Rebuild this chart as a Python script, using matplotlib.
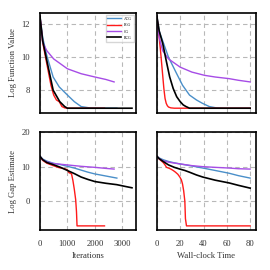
import matplotlib
matplotlib.use("Agg")
import matplotlib.pyplot as plt

plt.rcParams['font.family'] = ['Liberation Serif', 'DejaVu Serif']

labels = ["ACG", "PCG", "CG", "BCG"]
colors = ["#4a8fc9", "#ff1a1a", "#a64ce6", "#000000"]

# Top-left: log function value vs iterations
blue_it_x = [0, 100, 250, 480, 700, 1000, 1250, 1500, 1800, 2200, 2800]
blue_it_f = [12.5, 11.2, 10.1, 8.8, 8.2, 7.7, 7.3, 7.0, 6.92, 6.9, 6.9]
red_it_x = [0, 100, 250, 400, 500, 600, 700, 800, 900, 1000, 1500, 2000, 2350]
red_it_f = [12.5, 10.9, 9.6, 8.3, 7.7, 7.4, 7.3, 7.0, 6.92, 6.9, 6.9, 6.9, 6.9]
purple_it_x = [0, 100, 250, 500, 1000, 1500, 2000, 2400, 2700]
purple_it_f = [12.5, 10.9, 10.4, 9.9, 9.3, 9.0, 8.8, 8.65, 8.5]
black_it_x = [0, 100, 250, 480, 720, 900, 1000, 1500, 2000, 2500, 3000, 3350]
black_it_f = [12.5, 11.0, 9.8, 8.0, 7.3, 7.0, 6.9, 6.9, 6.9, 6.9, 6.9, 6.9]

# Top-right: log function value vs time
blue_t_x = [0, 2, 5, 10, 17, 22, 28, 34, 39, 45, 51, 60, 80]
blue_t_f = [12.5, 11.6, 11.0, 10.0, 9.0, 8.3, 7.7, 7.4, 7.2, 7.0, 6.92, 6.9, 6.9]
red_t_x = [0, 1, 2, 3, 4, 5, 6, 7, 8, 9, 10, 12, 15, 80]
red_t_f = [12.5, 11.9, 11.2, 10.5, 9.7, 8.9, 8.1, 7.5, 7.2, 7.05, 6.97, 6.92, 6.9, 6.9]
purple_t_x = [0, 2, 5, 10, 20, 30, 41, 50, 62, 70, 80]
purple_t_f = [12.5, 11.2, 10.4, 9.9, 9.4, 9.1, 8.9, 8.8, 8.7, 8.6, 8.5]
black_t_x = [0, 2, 5, 8, 11, 14, 17, 20, 22.6, 25, 28, 40, 60, 80]
black_t_f = [12.5, 11.6, 10.85, 9.8, 8.8, 8.1, 7.6, 7.3, 7.1, 7.0, 6.9, 6.9, 6.9, 6.9]

# Bottom-left: log gap estimate vs iterations
blue_ig_x = [0, 100, 250, 480, 750, 1000, 1250, 1500, 1750, 2000, 2400, 2800]
blue_ig = [13.0, 12.2, 11.6, 11.0, 10.6, 10.1, 9.6, 9.0, 8.4, 7.9, 7.3, 6.7]
red_ig_x = [0, 100, 250, 480, 700, 900, 1000, 1050, 1150, 1200, 1250, 1300, 1330, 1350, 1400, 2350]
red_ig = [12.8, 11.8, 11.0, 10.3, 9.7, 9.4, 9.1, 8.3, 7.9, 6.0, 3.5, 0.5, -3.0, -7.1, -7.1, -7.1]
purple_ig_x = [0, 100, 250, 480, 1000, 1500, 2000, 2400, 2700]
purple_ig = [13.0, 12.0, 11.4, 10.9, 10.5, 10.1, 9.8, 9.5, 9.3]
black_ig_x = [0, 100, 250, 480, 750, 1000, 1250, 1500, 1750, 2000, 2400, 2800, 3100, 3350]
black_ig = [13.0, 12.0, 11.2, 10.6, 9.8, 8.9, 8.0, 7.0, 6.3, 5.7, 5.2, 4.8, 4.3, 3.9]

# Bottom-right: log gap estimate vs time
blue_tg_x = [0, 2, 5.4, 10, 15, 19.7, 30, 39.4, 50, 62, 70, 80]
blue_tg = [13.0, 12.5, 12.0, 11.5, 11.1, 10.8, 10.2, 9.6, 8.9, 8.1, 7.4, 6.7]
red_tg_x = [0, 2, 5.4, 7, 8.3, 10, 12, 14, 16, 18, 19.7, 21, 22, 23, 24, 24.5, 25.4, 80]
red_tg = [13.0, 12.2, 11.2, 10.5, 9.8, 9.6, 9.3, 8.9, 8.4, 7.8, 7.0, 6.2, 5.0, 3.0, 0.0, -5.0, -7.1, -7.1]
purple_tg_x = [0, 2, 5.4, 10, 19.7, 30, 39.4, 50, 62, 70, 80]
purple_tg = [13.0, 12.3, 11.7, 11.3, 10.8, 10.3, 10.0, 9.8, 9.6, 9.4, 9.3]
black_tg_x = [0, 2, 5.4, 10, 15, 19.7, 24, 28, 34, 39.4, 50, 62, 70, 80]
black_tg = [13.0, 12.3, 11.5, 10.5, 9.8, 9.3, 8.9, 8.4, 7.6, 7.0, 6.1, 5.3, 4.6, 3.8]

it_ticks = [0, 1000, 2000, 3000]
t_ticks = [0, 20, 40, 60, 80]
f_ticks = [8, 10, 12]
g_ticks = [0, 10, 20]

fig = plt.figure(figsize=(2.7, 2.7), dpi=100)
L1, R1 = 0.148, 0.504
L2, R2 = 0.581, 0.948
T1, B1 = 0.952, 0.581
T2, B2 = 0.511, 0.148
ax_tl = fig.add_axes([L1, B1, R1 - L1, T1 - B1])
ax_tr = fig.add_axes([L2, B1, R2 - L2, T1 - B1])
ax_bl = fig.add_axes([L1, B2, R1 - L1, T2 - B2])
ax_br = fig.add_axes([L2, B2, R2 - L2, T2 - B2])

series = {
    ax_tl: [(blue_it_x, blue_it_f), (red_it_x, red_it_f), (purple_it_x, purple_it_f), (black_it_x, black_it_f)],
    ax_tr: [(blue_t_x, blue_t_f), (red_t_x, red_t_f), (purple_t_x, purple_t_f), (black_t_x, black_t_f)],
    ax_bl: [(blue_ig_x, blue_ig), (red_ig_x, red_ig), (purple_ig_x, purple_ig), (black_ig_x, black_ig)],
    ax_br: [(blue_tg_x, blue_tg), (red_tg_x, red_tg), (purple_tg_x, purple_tg), (black_tg_x, black_tg)],
}
for ax, data in series.items():
    for (x, y), c, lab in zip(data, colors, labels):
        ax.plot(x, y, color=c, lw=1.0 if c != "#000000" else 1.2, label=lab)
    ax.grid(True, ls=(0, (4, 3)), color='#b8b8b8', lw=0.8)
    for s in ax.spines.values():
        s.set_linewidth(1.2)
    ax.tick_params(labelsize=6.2, length=0, pad=7, labelcolor='#333333')

for ax in (ax_tl, ax_bl):
    ax.set_xlim(0, 3500)
    ax.set_xticks(it_ticks)
for ax in (ax_tr, ax_br):
    ax.set_xlim(0, 85)
    ax.set_xticks(t_ticks)
for ax in (ax_tl, ax_tr):
    ax.set_ylim(6.6, 12.7)
    ax.set_yticks(f_ticks)
    ax.tick_params(labelbottom=False)
for ax in (ax_bl, ax_br):
    ax.set_ylim(-8.3, 20)
    ax.set_yticks(g_ticks)
for ax in (ax_tr, ax_br):
    ax.tick_params(labelleft=False)

ax_tl.set_ylabel("Log Function Value", fontsize=6.2, labelpad=3, color='#333333')
ax_bl.set_ylabel("Log Gap Estimate", fontsize=6.2, labelpad=3, color='#333333')
ax_bl.set_xlabel("Iterations", fontsize=6.2, labelpad=3, color='#333333')
ax_br.set_xlabel("Wall-clock Time", fontsize=6.2, labelpad=3, color='#333333')

ax_tl.legend(loc='upper right', fontsize=2.8, handlelength=3.5, borderpad=0.5,
             labelspacing=0.6, frameon=True, fancybox=False, edgecolor='#cccccc')

fig.savefig("out.png", dpi=100)
